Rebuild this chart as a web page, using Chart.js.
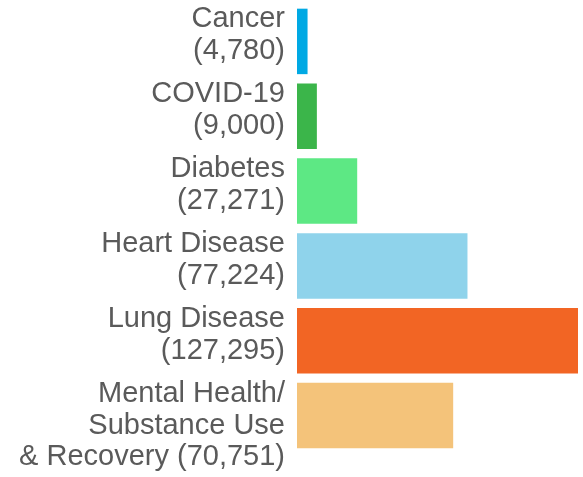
<!DOCTYPE html>
<html>
<head>
<meta charset="utf-8">
<script src="https://cdn.jsdelivr.net/npm/chart.js@4/dist/chart.umd.min.js"></script>
<style>
  html, body { margin: 0; padding: 0; background: #fff; }
  #wrap { width: 583px; height: 477px; }
</style>
</head>
<body>
<div id="wrap"><canvas id="chart"></canvas></div>
<script>
const categories = ['Cancer', 'COVID-19', 'Diabetes', 'Heart Disease', 'Lung Disease', 'Mental Health/Substance Use & Recovery'];
// tick label lines (leading blank on the last one pushes it down like the original)
const tickLabels = [
  ['Cancer', '(4,780)'],
  ['COVID-19', '(9,000)'],
  ['Diabetes', '(27,271)'],
  ['Heart Disease', '(77,224)'],
  ['Lung Disease', '(127,295)'],
  ['', 'Mental Health/', 'Substance Use', '& Recovery (70,751)']
];
const values = [4780, 9000, 27271, 77224, 127295, 70751];
const barColors = ['#00A9E4', '#3BB54A', '#5DE884', '#8FD3EB', '#F26524', '#F4C37A'];

const ctx = document.getElementById('chart').getContext('2d');
new Chart(ctx, {
  type: 'bar',
  data: {
    labels: categories,
    datasets: [{
      data: values,
      backgroundColor: barColors,
      borderWidth: 0,
      barPercentage: 0.875,
      categoryPercentage: 1
    }]
  },
  options: {
    indexAxis: 'y',
    responsive: true,
    maintainAspectRatio: false,
    animation: false,
    layout: { padding: { top: 4, right: 5, bottom: 24, left: 0 } },
    plugins: { legend: { display: false }, tooltip: { enabled: false } },
    scales: {
      x: {
        display: false,
        min: 0,
        max: 127295
      },
      y: {
        grid: { display: false, drawTicks: false },
        border: { display: false },
        afterFit: s => { s.width = 297; s.paddingTop = 0; s.paddingBottom = 0; },
        ticks: {
          autoSkip: false,
          padding: 12,
          labelOffset: -6,
          color: '#5a5a5a',
          font: { family: 'Liberation Sans', size: 29, lineHeight: 1.1 },
          callback: (v, i) => tickLabels[i]
        }
      }
    }
  }
});
</script>
</body>
</html>
